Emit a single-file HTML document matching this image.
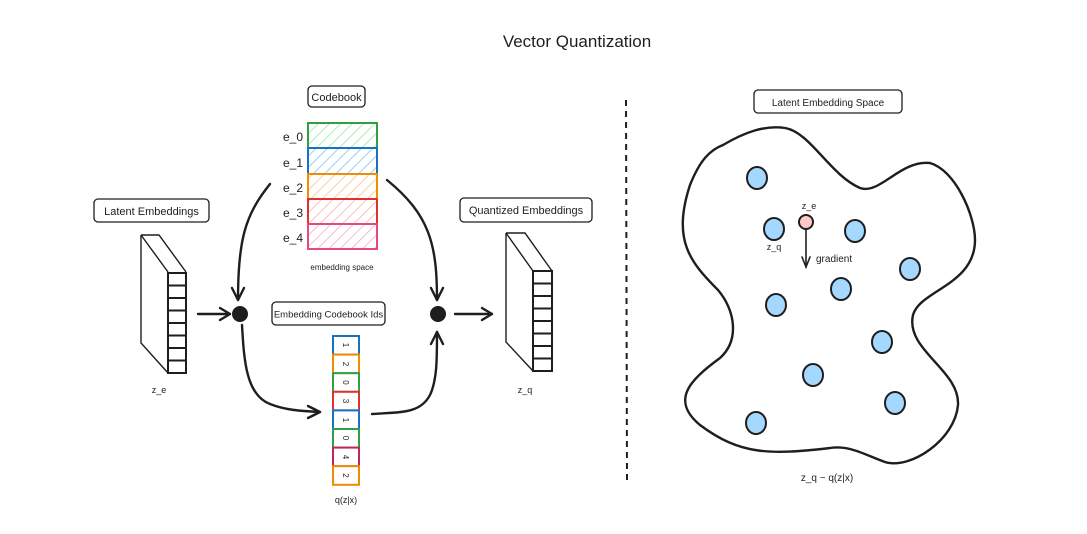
<!DOCTYPE html>
<html><head><meta charset="utf-8"><style>
html,body{margin:0;padding:0;background:#fff;}
svg{display:block;}
text{font-family:"Liberation Sans",sans-serif;fill:#1e1e1e;}
</style></head><body>
<svg width="1087" height="534" viewBox="0 0 1087 534" xmlns="http://www.w3.org/2000/svg">
<defs>
<pattern id="hg" width="8" height="8" patternUnits="userSpaceOnUse" patternTransform="rotate(45)"><line x1="0" y1="0" x2="0" y2="8" stroke="#8ce99a" stroke-width="1.5"/></pattern>
<pattern id="hb" width="8" height="8" patternUnits="userSpaceOnUse" patternTransform="rotate(45)"><line x1="0" y1="0" x2="0" y2="8" stroke="#74c0fc" stroke-width="1.5"/></pattern>
<pattern id="ho" width="8" height="8" patternUnits="userSpaceOnUse" patternTransform="rotate(45)"><line x1="0" y1="0" x2="0" y2="8" stroke="#ffc078" stroke-width="1.5"/></pattern>
<pattern id="hr" width="8" height="8" patternUnits="userSpaceOnUse" patternTransform="rotate(45)"><line x1="0" y1="0" x2="0" y2="8" stroke="#ffa8a8" stroke-width="1.5"/></pattern>
<pattern id="hp" width="8" height="8" patternUnits="userSpaceOnUse" patternTransform="rotate(45)"><line x1="0" y1="0" x2="0" y2="8" stroke="#faa2c1" stroke-width="1.5"/></pattern>
</defs>

<text x="577" y="47" font-size="17" text-anchor="middle">Vector Quantization</text>

<rect x="308" y="86" width="57" height="21" rx="4" fill="#fff" stroke="#1e1e1e" stroke-width="1.3"/>
<text x="336.5" y="101" font-size="11" text-anchor="middle">Codebook</text>
<rect x="308" y="123" width="69" height="25" fill="url(#hg)" stroke="#2f9e44" stroke-width="2"/>
<rect x="308" y="148" width="69" height="26" fill="url(#hb)" stroke="#1971c2" stroke-width="2"/>
<rect x="308" y="174" width="69" height="25" fill="url(#ho)" stroke="#f08c00" stroke-width="2"/>
<rect x="308" y="199" width="69" height="25" fill="url(#hr)" stroke="#e03131" stroke-width="2"/>
<rect x="308" y="224" width="69" height="25" fill="url(#hp)" stroke="#e64980" stroke-width="2"/>
<g font-size="12" text-anchor="end">
<text x="303" y="141">e_0</text><text x="303" y="167">e_1</text><text x="303" y="192">e_2</text><text x="303" y="217">e_3</text><text x="303" y="242">e_4</text>
</g>
<text x="342" y="270" font-size="8" text-anchor="middle">embedding space</text>

<rect x="94" y="199" width="115" height="23" rx="4" fill="#fff" stroke="#1e1e1e" stroke-width="1.3"/>
<text x="151.5" y="215" font-size="11" text-anchor="middle">Latent Embeddings</text>
<rect x="460" y="198" width="132" height="24" rx="4" fill="#fff" stroke="#1e1e1e" stroke-width="1.3"/>
<text x="526" y="214" font-size="11" text-anchor="middle">Quantized Embeddings</text>
<rect x="272" y="302" width="113" height="23" rx="4" fill="#fff" stroke="#1e1e1e" stroke-width="1.3"/>
<text x="328.5" y="317.5" font-size="9.5" text-anchor="middle">Embedding Codebook Ids</text>

<g fill="none" stroke="#1e1e1e" stroke-width="1.4">
<path d="M141 235 L159 235 L186 272 M141 235 L168 272 M141 235 L141 343 L168 373"/>
<path d="M506 233 L525 233 L552 271 M506 233 L533 271 M506 233 L506 342 L533 371"/>
</g>
<g fill="#fff" stroke="#1e1e1e" stroke-width="2">
<rect x="168" y="273" width="18" height="100"/>
<rect x="533" y="271" width="19" height="100"/>
</g>
<g stroke="#1e1e1e" stroke-width="2">
<line x1="168" y1="285.5" x2="186" y2="285.5"/><line x1="168" y1="298" x2="186" y2="298"/><line x1="168" y1="310.5" x2="186" y2="310.5"/><line x1="168" y1="323" x2="186" y2="323"/><line x1="168" y1="335.5" x2="186" y2="335.5"/><line x1="168" y1="348" x2="186" y2="348"/><line x1="168" y1="360.5" x2="186" y2="360.5"/>
<line x1="533" y1="283.5" x2="552" y2="283.5"/><line x1="533" y1="296" x2="552" y2="296"/><line x1="533" y1="308.5" x2="552" y2="308.5"/><line x1="533" y1="321" x2="552" y2="321"/><line x1="533" y1="333.5" x2="552" y2="333.5"/><line x1="533" y1="346" x2="552" y2="346"/><line x1="533" y1="358.5" x2="552" y2="358.5"/>
</g>
<text x="159" y="393" font-size="9" text-anchor="middle">z_e</text>
<text x="525" y="393" font-size="9" text-anchor="middle">z_q</text>

<circle cx="240" cy="314" r="8" fill="#1e1e1e"/>
<circle cx="438" cy="314" r="8" fill="#1e1e1e"/>

<g fill="none" stroke="#1e1e1e" stroke-width="2.4" stroke-linecap="round" stroke-linejoin="round">
<path d="M270 184 C245 215 238 240 238 300"/><path d="M232 288 L238 300 L244 288"/>
<path d="M387 180 C430 215 437 245 437 300"/><path d="M431 288 L437 300 L443 288"/>
<path d="M198 314 L230 314"/><path d="M220 308 L230 314 L220 320"/>
<path d="M455 314 L492 314"/><path d="M482 308 L492 314 L482 320"/>
<path d="M242 325 C244 360 246 395 270 404 C285 410 300 411 320 412"/><path d="M308 406 L320 412 L308 418"/>
<path d="M372 414 C400 412 420 414 430 395 C437 380 437 360 437 332"/><path d="M431 344 L437 332 L443 344"/>
</g>

<g stroke-width="2" fill="#fff">
<rect x="333" y="336" width="26" height="18.6" stroke="#1971c2"/>
<rect x="333" y="354.6" width="26" height="18.6" stroke="#f08c00"/>
<rect x="333" y="373.2" width="26" height="18.6" stroke="#2f9e44"/>
<rect x="333" y="391.8" width="26" height="18.6" stroke="#e03131"/>
<rect x="333" y="410.4" width="26" height="18.6" stroke="#1971c2"/>
<rect x="333" y="429" width="26" height="18.6" stroke="#2f9e44"/>
<rect x="333" y="447.6" width="26" height="18.6" stroke="#c2255c"/>
<rect x="333" y="466.2" width="26" height="18.6" stroke="#f08c00"/>
</g>
<g font-size="8" text-anchor="middle" fill="#555">
<text transform="translate(346,345) rotate(90)" dy="3">1</text>
<text transform="translate(346,364) rotate(90)" dy="3">2</text>
<text transform="translate(346,382.5) rotate(90)" dy="3">0</text>
<text transform="translate(346,401) rotate(90)" dy="3">3</text>
<text transform="translate(346,420) rotate(90)" dy="3">1</text>
<text transform="translate(346,438) rotate(90)" dy="3">0</text>
<text transform="translate(346,457) rotate(90)" dy="3">4</text>
<text transform="translate(346,475.5) rotate(90)" dy="3">2</text>
</g>
<text x="346" y="503" font-size="9" text-anchor="middle">q(z|x)</text>

<line x1="626" y1="100" x2="627" y2="482" stroke="#1e1e1e" stroke-width="2" stroke-dasharray="6,5"/>

<rect x="754" y="90" width="148" height="23" rx="4" fill="#fff" stroke="#1e1e1e" stroke-width="1.3"/>
<text x="828" y="106" font-size="10" text-anchor="middle">Latent Embedding Space</text>
<path d="M723 145 C745 132 765 125 785 128 C810 132 830 175 860 188 C880 195 900 160 930 163 C955 170 975 215 975 240 C975 285 920 290 913 315 C905 350 960 370 958 405 C955 440 910 470 885 462 C865 455 850 445 830 448 C770 455 740 455 700 425 C670 400 690 380 720 358 C740 340 735 310 718 290 C690 262 672 240 690 185 C700 160 710 150 723 145 Z" fill="none" stroke="#1e1e1e" stroke-width="2.4"/>
<g fill="#a5d8ff" stroke="#1e1e1e" stroke-width="2">
<ellipse cx="757" cy="178" rx="10" ry="11"/>
<ellipse cx="774" cy="229" rx="10" ry="11"/>
<ellipse cx="855" cy="231" rx="10" ry="11"/>
<ellipse cx="910" cy="269" rx="10" ry="11"/>
<ellipse cx="841" cy="289" rx="10" ry="11"/>
<ellipse cx="776" cy="305" rx="10" ry="11"/>
<ellipse cx="882" cy="342" rx="10" ry="11"/>
<ellipse cx="813" cy="375" rx="10" ry="11"/>
<ellipse cx="895" cy="403" rx="10" ry="11"/>
<ellipse cx="756" cy="423" rx="10" ry="11"/>
</g>
<circle cx="806" cy="222" r="7" fill="#ffc9c9" stroke="#1e1e1e" stroke-width="2"/>
<g fill="none" stroke="#1e1e1e" stroke-width="1.6" stroke-linecap="round">
<path d="M806 229 L806 267"/><path d="M802 257 L806 267 L810 257"/>
</g>
<text x="809" y="209" font-size="9" text-anchor="middle">z_e</text>
<text x="774" y="250" font-size="9" text-anchor="middle">z_q</text>
<text x="816" y="262" font-size="10">gradient</text>
<text x="827" y="481" font-size="10" text-anchor="middle">z_q ~ q(z|x)</text>
</svg>
</body></html>
